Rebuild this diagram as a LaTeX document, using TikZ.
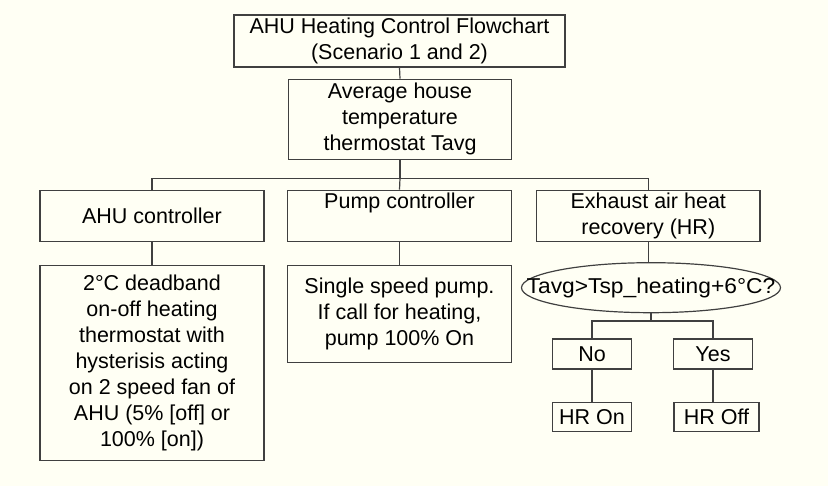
\documentclass[tikz,border=0pt]{standalone}
\usepackage{fontspec}
\usepackage{graphicx}
\setmainfont{Liberation Sans}
\usetikzlibrary{shapes.geometric}
\definecolor{bgcream}{RGB}{255,255,244}
\definecolor{linegray}{RGB}{64,64,64}
\begin{document}
\begin{tikzpicture}[x=1pt,y=-1pt,
  every node/.style={font=\fontsize{21.5}{26}\selectfont, text=black},
  box/.style={draw=linegray, line width=1.2pt, rectangle, inner sep=0pt, align=center, fill=bgcream},
  oval/.style={draw=linegray, line width=1.2pt, ellipse, inner sep=0pt, align=center, fill=bgcream},
  conn/.style={draw=linegray, line width=1.2pt}]
\fill[bgcream] (0,0) rectangle (828,486);
\useasboundingbox (0,0) rectangle (828,486);

\node[box, minimum width=331pt, minimum height=52pt] (title) at (399.5,41) {AHU Heating Control Flowchart\\(Scenario 1 and 2)};
\node[box, minimum width=223.4pt, minimum height=80pt] (avg) at (400,119.3) {Average house\\temperature\\thermostat Tavg};

\node[box, minimum width=224pt, minimum height=51.7pt] (ahu) at (152,216) {AHU controller};
\node[box, minimum width=223.3pt, minimum height=51.7pt] (pump) at (399.5,216) {Pump controller\\[-4pt]\strut};
\node[box, minimum width=223.3pt, minimum height=51.7pt] (exh) at (648.3,216) {Exhaust air heat\\recovery (HR)};

\node[box, minimum width=224pt, minimum height=195.7pt] (ahutext) at (152,363) {2°C deadband\\on-off heating\\thermostat with\\hysterisis acting\\on 2 speed fan of\\AHU (5\% [off] or\\100\% [on])};
\node[box, minimum width=223.3pt, minimum height=97.7pt] (pumptext) at (399.5,314) {Single speed pump.\\If call for heating,\\pump 100\% On};

\node[oval, minimum width=259pt, minimum height=50pt] (cond) at (651,287.7) {\makebox[0pt]{\scalebox{1.06}[1]{Tavg>Tsp\_heating+6°C?}}};

\node[box, minimum width=79.4pt, minimum height=30pt] (no) at (592,354) {No};
\node[box, minimum width=78.3pt, minimum height=30pt] (yes) at (713,354) {Yes};
\node[box, minimum width=79.7pt, minimum height=29.7pt] (hron) at (592,417) {HR On};
\node[box, minimum width=85pt, minimum height=29.7pt] (hroff) at (716.5,417) {HR Off};

\coordinate (bus) at (400,178.3);
\coordinate (split) at (651,321);

\draw[conn] (title.south) -- (avg.north);
\draw[conn] (avg.south) -- (bus);
\draw[conn] (ahu.north) -- (ahu.north |- bus) -- (exh.north |- bus) -- (exh.north);
\draw[conn] (bus) -- (pump.north);
\draw[conn] (ahu.south) -- (ahutext.north);
\draw[conn] (pump.south) -- (pumptext.north);
\draw[conn] (exh.south) -- (exh.south |- cond.north);
\draw[conn] (cond.south) -- (split);
\draw[conn] (no.north) -- (no.north |- split) -- (yes.north |- split) -- (yes.north);
\draw[conn] (no.south) -- (hron.north);
\draw[conn] (yes.south) -- (yes.south |- hroff.north);
\end{tikzpicture}
\end{document}
